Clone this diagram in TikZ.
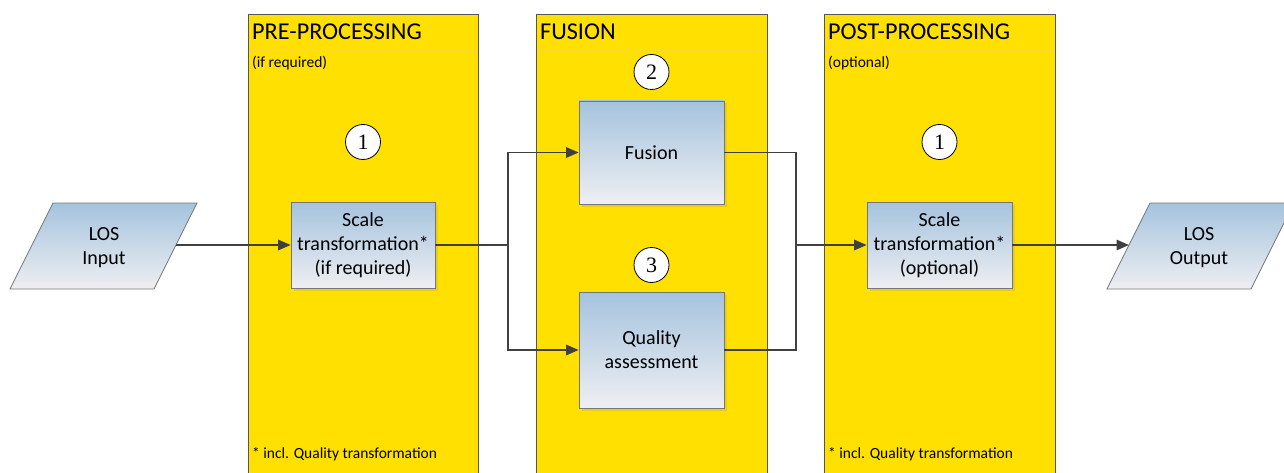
\documentclass[tikz,border=0pt]{standalone}
\usepackage{fontspec}
\setmainfont{Carlito}
\newfontfamily\numfont{Liberation Serif}
\usetikzlibrary{arrows.meta,shadows}
\definecolor{laneyellow}{RGB}{255,224,0}
\definecolor{laneedge}{RGB}{85,85,85}
\definecolor{laneline}{RGB}{246,220,40}
\definecolor{boxtop}{RGB}{165,195,222}
\definecolor{boxbottom}{RGB}{238,239,242}
\definecolor{boxedge}{RGB}{118,118,118}
\definecolor{wirecol}{RGB}{64,64,64}
\begin{document}
\begin{tikzpicture}[x=1pt,y=-1pt,
  lane/.style={draw=laneedge, fill=laneyellow, line width=1pt},
  lanesep/.style={draw=laneline, line width=0.8pt},
  lanetitle/.style={anchor=base west, inner sep=0pt, font=\fontsize{24.2}{28}\selectfont},
  lanenote/.style={anchor=base west, inner sep=0pt, font=\fontsize{15.5}{18}\selectfont},
  procbox/.style={draw=boxedge, top color=boxtop, bottom color=boxbottom,
    line width=0.8pt, align=center, inner sep=0pt,
    font=\fontsize{20}{24}\selectfont,
    drop shadow={shadow xshift=2.5pt, shadow yshift=-2.5pt, opacity=0.18}},
  iobox/.style={draw=boxedge, top color=boxtop, bottom color=boxbottom, line width=0.8pt},
  iotext/.style={align=center, inner sep=0pt, font=\fontsize{20}{24.5}\selectfont},
  stepnum/.style={circle, draw=black, fill=white, line width=0.8pt,
    minimum size=35pt, inner sep=0pt, font=\numfont\fontsize{22}{22}\selectfont},
  wire/.style={draw=wirecol, line width=1.6pt},
  flow/.style={wire, -{Triangle[length=12.5pt,width=10.5pt]}},
]
\useasboundingbox (0,0) rectangle (1284,473);
\clip (0,0) rectangle (1284,473);

% swim lanes
\path[lane] (248,15) rectangle (478,480);
\path[lane] (536,15) rectangle (767,480);
\path[lane] (824,15) rectangle (1055,480);
\draw[lanesep] (249,50) -- (477,50);
\draw[lanesep] (537,50) -- (766,50);
\draw[lanesep] (825,50) -- (1054,50);

\node[lanetitle] (preTitle)  at (252,40) {PRE-PROCESSING};
\node[lanetitle] (fusTitle)  at (540,40) {FUSION};
\node[lanetitle] (postTitle) at (828,40) {POST-PROCESSING};
\node[lanenote] (preNote)  at (252,68) {(if required)};
\node[lanenote] (postNote) at (828,68) {(optional)};
\node[lanenote] (preFoot)  at (252,458) {* incl. Quality transformation};
\node[lanenote] (postFoot) at (828,458) {* incl. Quality transformation};

% step markers
\node[stepnum] (n1a) at (363,142) {1};
\node[stepnum] (n2)  at (651.5,72) {2};
\node[stepnum] (n3)  at (651.5,265) {3};
\node[stepnum] (n1b) at (939.5,142) {1};

% input / output data
\shade[iobox] (53,203) -- (197,203) -- (154,289) -- (10,289) -- cycle;
\node[iotext] (inp) at (104,247.5) {LOS\\Input};
\coordinate (inpE) at (176,245);
\shade[iobox] (1150,203) -- (1294,203) -- (1251,289) -- (1107,289) -- cycle;
\node[iotext] (outp) at (1199,247.5) {LOS\\Output};
\coordinate (outpW) at (1129,245);

% process boxes
\node[procbox, minimum width=144pt, minimum height=86pt] (pre) at (363,245)
  {Scale\\transformation*\\(if required)};
\node[procbox, minimum width=145pt, minimum height=103pt] (fus) at (651.5,152.5)
  {Fusion};
\node[procbox, minimum width=145pt, minimum height=116pt] (qual) at (651.5,350)
  {Quality\\assessment};
\node[procbox, minimum width=145pt, minimum height=86pt] (post) at (939.5,245)
  {Scale\\transformation*\\(optional)};

% connectors
\coordinate (split) at (508,245);
\coordinate (join) at (796,245);
\draw[flow] (inpE) -- (pre.west);
\draw[wire] (pre.east) -- (split);
\draw[flow] (split) |- (fus.west);
\draw[flow] (split) |- (qual.west);
\draw[wire] (fus.east) -| (join);
\draw[wire] (qual.east) -| (join);
\draw[flow] (join) -- (post.west);
\draw[flow] (post.east) -- (outpW);
\end{tikzpicture}
\end{document}
